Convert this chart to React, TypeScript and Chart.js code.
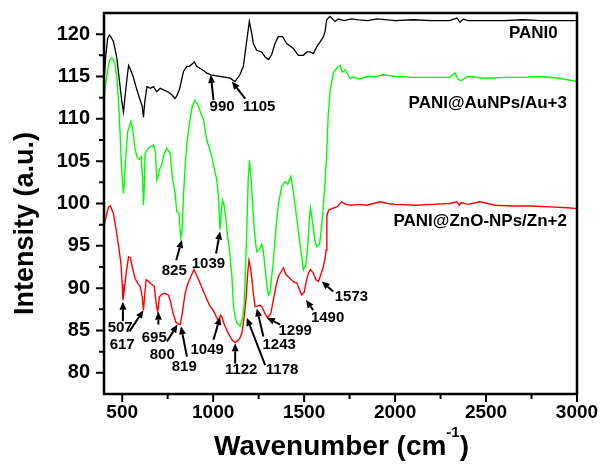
import React, { useEffect, useRef } from 'react';
import { Chart, registerables } from 'chart.js';

Chart.register(...registerables);

// ---- data (wavenumber, intensity) ----
const pani0X = [400,410,420,430,440,452,463,471,480,490,500,507,515,525,535,544,560,581,599,610,617,624,636,655,672,690,709,730,750,770,791,800,815,837,855,870,897,910,925,947,965,987,1010,1040,1070,1093,1120,1147,1166,1185,1199,1212,1221,1239,1266,1286,1304,1322,1340,1358,1382,1404,1441,1468,1496,1515,1533,1551,1569,1588,1606,1615,1624,1642,1670,1688,1720,1760,1800,1850,1900,2000,2100,2200,2300,2340,2357,2375,2400,2500,2600,2700,2800,2900,3000];
const pani0Y = [114.5,117.5,119.5,119.9,119.6,119.1,118.0,117.1,115.4,113.5,111.8,110.8,112.5,114.5,116.3,115.9,115.0,113.4,112.2,111.5,110.2,112.0,113.8,113.6,113.8,113.2,113.6,113.4,113.2,112.9,112.4,112.7,113.5,115.6,116.2,116.2,116.7,116.2,116.0,115.7,115.4,115.2,115.1,115.0,114.9,114.8,114.4,115.2,116.2,119.3,121.5,120.1,118.9,118.1,117.9,117.3,117.0,117.6,118.9,119.7,119.7,118.9,118.3,117.5,117.5,117.9,117.9,117.7,118.5,119.1,119.7,120.3,121.7,122.1,121.5,121.8,121.6,121.8,121.7,121.6,121.8,121.6,121.7,121.6,121.6,121.9,121.4,121.8,121.6,121.6,121.6,121.7,121.6,121.6,121.6];

const auX = [400,407,418,430,440,449,460,471,480,488,495,500,507,512,518,530,548,560,570,581,595,605,612,617,622,626,640,655,672,682,690,697,705,718,730,745,755,764,775,791,800,812,822,830,837,845,855,870,885,900,915,930,947,965,980,993,1005,1020,1029,1038,1045,1051,1060,1070,1080,1090,1103,1112,1122,1130,1148,1163,1170,1176,1185,1193,1200,1209,1222,1232,1240,1255,1265,1273,1285,1295,1304,1313,1330,1345,1359,1377,1395,1410,1427,1440,1455,1470,1485,1496,1510,1520,1529,1535,1545,1560,1570,1585,1595,1605,1615,1625,1632,1643,1661,1680,1698,1710,1725,1753,1780,1800,1850,1900,1936,2000,2100,2209,2300,2330,2345,2363,2400,2500,2600,2700,2800,2900,3000];
const auY = [112.2,113.8,115.5,116.9,117.2,117.1,116.5,114.8,112.0,108.5,105.0,103.0,101.2,102.5,105.0,108.5,109.7,108.5,106.5,105.5,105.2,105.5,103.0,99.8,102.5,105.9,106.4,106.7,106.9,106.2,102.8,103.2,104.0,104.6,105.8,106.5,106.2,105.9,103.2,101.2,99.0,98.8,95.9,97.0,101.0,104.0,107.0,109.5,111.5,112.2,111.7,110.8,109.9,107.5,106.5,105.5,104.2,102.8,100.8,96.9,99.0,100.4,99.8,98.2,96.0,94.5,91.4,87.8,86.5,85.9,85.5,86.6,88.0,91.0,97.0,103.0,105.1,102.8,98.1,95.5,94.3,94.6,95.2,94.9,92.5,90.3,89.2,89.6,93.0,97.0,100.0,102.0,102.6,102.3,103.2,101.5,99.0,96.5,94.0,92.2,92.8,95.0,98.4,99.5,98.0,95.5,94.9,95.2,97.0,99.5,102.4,106.3,110.2,113.4,115.4,116.0,116.3,115.5,115.8,114.8,114.9,114.7,115.0,115.0,115.2,115.0,114.9,114.9,114.9,115.4,114.7,114.5,115.0,114.8,114.9,114.9,115.0,114.8,114.4];

const znX = [400,407,418,425,435,452,467,480,493,500,504,510,522,535,545,555,570,585,599,610,617,625,632,645,660,676,688,695,705,720,735,754,765,780,795,804,819,830,846,860,880,895,910,930,955,980,1005,1029,1040,1048,1060,1080,1103,1120,1130,1145,1158,1170,1180,1190,1197,1205,1213,1222,1231,1245,1258,1270,1285,1298,1310,1317,1330,1345,1359,1375,1386,1400,1420,1440,1460,1475,1487,1500,1512,1524,1535,1550,1565,1579,1590,1605,1615,1621,1625,1634,1652,1680,1707,1730,1760,1800,1845,1880,1918,1960,2000,2119,2200,2300,2339,2352,2365,2400,2467,2550,2650,2750,2850,2950,3000];
const znY = [97.3,98.1,99.0,99.6,99.7,98.8,96.9,95.0,92.9,90.5,88.6,89.5,91.8,93.7,93.6,92.5,91.2,90.6,90.2,89.0,87.4,89.5,91.0,90.8,90.5,90.2,88.0,87.2,89.0,89.3,89.4,89.2,88.5,87.0,86.0,85.8,85.7,87.0,89.4,90.5,91.5,92.2,91.5,90.5,89.2,88.0,87.2,86.1,86.8,86.6,85.8,84.8,83.9,83.6,83.7,84.0,84.7,86.5,88.5,91.8,93.3,92.5,91.0,89.2,87.8,87.9,88.0,87.7,87.0,86.5,86.8,87.0,88.5,90.2,91.4,92.0,92.4,91.6,91.2,90.8,90.6,89.8,89.2,89.5,90.8,91.8,92.2,91.8,91.0,90.8,91.5,92.5,93.5,94.5,98.5,99.2,99.4,99.6,100.2,99.9,99.8,99.9,99.8,100.0,100.2,100.0,99.9,99.8,99.9,100.0,100.2,99.8,100.1,99.9,100.2,99.8,99.7,99.7,99.6,99.5,99.4];

// ---- axes ----
const xTicks = [500, 1000, 1500, 2000, 2500, 3000];
const xMinor = [750, 1250, 1750, 2250, 2750];
const yTicks = [80, 85, 90, 95, 100, 105, 110, 115, 120];
const yMinor = [82.5, 87.5, 92.5, 97.5, 102.5, 107.5, 112.5, 117.5];

// ---- series labels ----
const seriesNames = ['PANI0', 'PANI@AuNPs/Au+3', 'PANI@ZnO-NPs/Zn+2'];
const seriesLabelX = [2894, 2945, 2945];
const seriesLabelY = [120.1, 111.8, 97.85];

// ---- peak annotations (text position, arrow tail, arrow head) in data units ----
const peakLabels = ['990', '1105', '825', '1039', '507', '617', '695', '800', '819', '1049', '1122', '1178', '1243', '1299', '1490', '1573'];
const peakTextX = [1049, 1253, 786, 974, 489, 500, 676, 720, 841, 967, 1154, 1379, 1363, 1451, 1629, 1760];
const peakTextY = [111.4, 111.4, 92.0, 92.9, 85.3, 83.3, 84.1, 82.1, 80.7, 82.7, 80.3, 80.3, 83.3, 84.9, 86.5, 89.0];
const peakTailX = [1002, 1176, 797, 1016, 504, 540, 699, 746, 856, 1002, 1121, 1286, 1276, 1368, 1550, 1660];
const peakTailY = [112.2, 112.4, 93.3, 94.1, 86.1, 84.9, 85.7, 83.7, 81.9, 83.9, 81.1, 80.9, 84.3, 85.7, 87.4, 89.6];
const peakHeadX = [987, 1103, 828, 1038, 504, 617, 699, 804, 823, 1038, 1121, 1185, 1240, 1295, 1510, 1597];
const peakHeadY = [115.2, 114.4, 95.7, 96.7, 88.4, 87.4, 87.2, 85.7, 85.5, 86.6, 83.5, 86.5, 87.6, 86.5, 88.6, 90.8];

const FONT = "'Liberation Sans', Arial, Helvetica, sans-serif";

function drawArrow(ctx: CanvasRenderingContext2D, x1: number, y1: number, x2: number, y2: number) {
  const ang = Math.atan2(y2 - y1, x2 - x1);
  const hl = 8, hw = 3.5;
  const bx = x2 - hl * Math.cos(ang);
  const by = y2 - hl * Math.sin(ang);
  ctx.beginPath();
  ctx.moveTo(x1, y1);
  ctx.lineTo(bx, by);
  ctx.lineWidth = 2;
  ctx.stroke();
  ctx.beginPath();
  ctx.moveTo(x2, y2);
  ctx.lineTo(bx + hw * Math.sin(ang), by - hw * Math.cos(ang));
  ctx.lineTo(bx - hw * Math.sin(ang), by + hw * Math.cos(ang));
  ctx.closePath();
  ctx.fill();
}

const decorPlugin = {
  id: 'decor',
  afterDatasetsDraw(chart: any) {
    const { ctx, chartArea: ca, scales } = chart;
    const xs = scales.x, ys = scales.y;
    ctx.save();
    ctx.strokeStyle = '#000';
    ctx.fillStyle = '#000';
    // frame
    ctx.lineWidth = 2.5;
    ctx.strokeRect(ca.left, ca.top, ca.right - ca.left, ca.bottom - ca.top);
    // ticks
    ctx.lineWidth = 2;
    ctx.beginPath();
    xTicks.forEach((v) => { const p = xs.getPixelForValue(v); ctx.moveTo(p, ca.bottom); ctx.lineTo(p, ca.bottom + 8); });
    xMinor.forEach((v) => { const p = xs.getPixelForValue(v); ctx.moveTo(p, ca.bottom); ctx.lineTo(p, ca.bottom + 5); });
    yTicks.forEach((v) => { const p = ys.getPixelForValue(v); ctx.moveTo(ca.left, p); ctx.lineTo(ca.left - 8, p); });
    yMinor.forEach((v) => { const p = ys.getPixelForValue(v); ctx.moveTo(ca.left, p); ctx.lineTo(ca.left - 5, p); });
    ctx.stroke();
    // arrows
    peakLabels.forEach((_, i) => {
      drawArrow(ctx,
        xs.getPixelForValue(peakTailX[i]), ys.getPixelForValue(peakTailY[i]),
        xs.getPixelForValue(peakHeadX[i]), ys.getPixelForValue(peakHeadY[i]));
    });
    // peak labels
    ctx.textBaseline = 'middle';
    ctx.textAlign = 'center';
    ctx.font = `bold 15px ${FONT}`;
    peakLabels.forEach((t, i) => {
      ctx.fillText(t, xs.getPixelForValue(peakTextX[i]), ys.getPixelForValue(peakTextY[i]));
    });
    // series labels
    ctx.textAlign = 'right';
    ctx.font = `bold 17px ${FONT}`;
    seriesNames.forEach((t, i) => {
      ctx.fillText(t, xs.getPixelForValue(seriesLabelX[i]), ys.getPixelForValue(seriesLabelY[i]));
    });
    // y title
    ctx.save();
    ctx.translate(33, (ca.top + ca.bottom) / 2 + 20);
    ctx.rotate(-Math.PI / 2);
    ctx.font = `bold 27px ${FONT}`;
    ctx.textAlign = 'center';
    ctx.textBaseline = 'alphabetic';
    ctx.fillText('Intensity (a.u.)', 0, 0);
    ctx.restore();
    // x title with superscript
    ctx.save();
    const main = 'Wavenumber (cm';
    const sup = '-1';
    const close = ')';
    ctx.font = `bold 28px ${FONT}`;
    const wMain = ctx.measureText(main).width;
    const wClose = ctx.measureText(close).width;
    ctx.font = `bold 15px ${FONT}`;
    const wSup = ctx.measureText(sup).width;
    const total = wMain + wSup + wClose;
    const cx = (ca.left + ca.right) / 2 + 1;
    const baseY = 455;
    const x0 = cx - total / 2;
    ctx.textAlign = 'left';
    ctx.textBaseline = 'alphabetic';
    ctx.font = `bold 28px ${FONT}`;
    ctx.fillText(main, x0, baseY);
    ctx.font = `bold 15px ${FONT}`;
    ctx.fillText(sup, x0 + wMain, baseY - 18);
    ctx.font = `bold 28px ${FONT}`;
    ctx.fillText(close, x0 + wMain + wSup, baseY);
    ctx.restore();
    ctx.restore();
  },
};

export default function App() {
  const canvasRef = useRef<HTMLCanvasElement | null>(null);

  useEffect(() => {
    const canvas = canvasRef.current;
    if (!canvas) return;
    const toPts = (xs: number[], ys: number[]) => xs.map((x, i) => ({ x, y: ys[i] }));
    const chart = new Chart(canvas, {
      type: 'line',
      data: {
        datasets: [
          { label: seriesNames[0], data: toPts(pani0X, pani0Y), borderColor: '#000000', borderWidth: 1.3, pointRadius: 0, fill: false, tension: 0 },
          { label: seriesNames[1], data: toPts(auX, auY), borderColor: '#00ff00', borderWidth: 1.4, pointRadius: 0, fill: false, tension: 0 },
          { label: seriesNames[2], data: toPts(znX, znY), borderColor: '#ff0000', borderWidth: 1.4, pointRadius: 0, fill: false, tension: 0 },
        ],
      },
      options: {
        responsive: false,
        animation: false,
        devicePixelRatio: 1,
        layout: { padding: { top: 13, right: 27, left: 0, bottom: 0 } },
        plugins: { legend: { display: false }, tooltip: { enabled: false }, title: { display: false } },
        scales: {
          x: {
            type: 'linear',
            min: 400,
            max: 3000,
            afterBuildTicks: (s: any) => { s.ticks = xTicks.map((v) => ({ value: v })); },
            afterFit: (s: any) => { s.height = 71; s.paddingLeft = 0; s.paddingRight = 0; },
            grid: { display: false, drawTicks: false },
            border: { display: false },
            ticks: { color: '#000', font: { family: FONT, size: 19, weight: 'bold' }, padding: 7, maxRotation: 0, autoSkip: false, callback: (v: any) => String(v) },
          },
          y: {
            type: 'linear',
            min: 77.5,
            max: 122.5,
            afterBuildTicks: (s: any) => { s.ticks = yTicks.map((v) => ({ value: v })); },
            afterFit: (s: any) => { s.width = 104; s.paddingTop = 0; s.paddingBottom = 0; },
            grid: { display: false, drawTicks: false },
            border: { display: false },
            ticks: { color: '#000', font: { family: FONT, size: 20, weight: 'bold' }, padding: 14, autoSkip: false, callback: (v: any) => String(v) },
          },
        },
      } as any,
      plugins: [decorPlugin],
    });
    return () => chart.destroy();
  }, []);

  return (
    <div style={{ position: 'absolute', left: 0, top: 0, width: 604, height: 465, background: '#fff' }}>
      <canvas ref={canvasRef} width={604} height={465} />
    </div>
  );
}
